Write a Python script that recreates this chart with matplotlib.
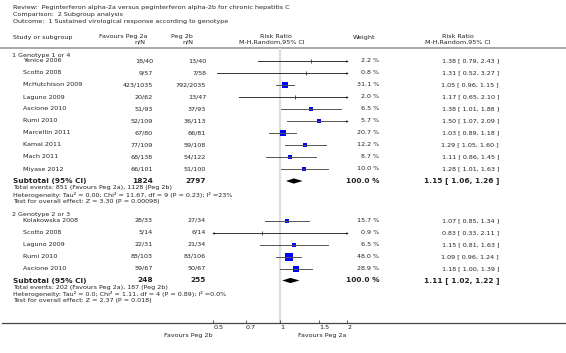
import matplotlib

matplotlib.use("Agg")

import matplotlib.pyplot as plt
import numpy as np

# ---- data -----------------------------------------------------------------
g1_studies = ["Yenice 2006", "Scotto 2008", "McHutchison 2009", "Laguno 2009", "Ascione 2010",
              "Rumi 2010", "Marcellin 2011", "Kamal 2011", "Mach 2011", "Miyase 2012"]
g1_peg2a = ["18/40", "9/57", "423/1035", "20/62", "51/93", "52/109", "67/80", "77/109", "68/138", "66/101"]
g1_peg2b = ["13/40", "7/58", "792/2035", "13/47", "37/93", "36/113", "66/81", "59/108", "54/122", "51/100"]
g1_weight = [2.2, 0.8, 31.1, 2.0, 6.5, 5.7, 20.7, 12.2, 8.7, 10.0]
g1_rr = [1.38, 1.31, 1.05, 1.17, 1.38, 1.50, 1.03, 1.29, 1.11, 1.28]
g1_lo = [0.79, 0.52, 0.96, 0.65, 1.01, 1.07, 0.89, 1.05, 0.86, 1.01]
g1_hi = [2.43, 3.27, 1.15, 2.10, 1.88, 2.09, 1.18, 1.60, 1.45, 1.63]
g1_total = ("1824", "2797")
g1_sub = (1.15, 1.06, 1.26)
g1_notes = ["Total events: 851 (Favours Peg 2a), 1128 (Peg 2b)",
            "Heterogeneity: Tau\u00b2 = 0.00; Chi\u00b2 = 11.67, df = 9 (P = 0.23); I\u00b2 =23%",
            "Test for overall effect: Z = 3.30 (P = 0.00098)"]

g2_studies = ["Kolakowska 2008", "Scotto 2008", "Laguno 2009", "Rumi 2010", "Ascione 2010"]
g2_peg2a = ["28/33", "5/14", "22/31", "88/103", "59/67"]
g2_peg2b = ["27/34", "6/14", "21/34", "83/106", "50/67"]
g2_weight = [15.7, 0.9, 6.5, 48.0, 28.9]
g2_rr = [1.07, 0.83, 1.15, 1.09, 1.18]
g2_lo = [0.85, 0.33, 0.81, 0.96, 1.00]
g2_hi = [1.34, 2.11, 1.63, 1.24, 1.39]
g2_total = ("248", "255")
g2_sub = (1.11, 1.02, 1.22)
g2_notes = ["Total events: 202 (Favours Peg 2a), 187 (Peg 2b)",
            "Heterogeneity: Tau\u00b2 = 0.0; Chi\u00b2 = 1.11, df = 4 (P = 0.89); I\u00b2 =0.0%",
            "Test for overall effect: Z = 2.37 (P = 0.018)"]

x_ticks = [0.5, 0.7, 1, 1.5, 2]
x_ticklabels = ["0.5", "0.7", "1", "1.5", "2"]
clip_lo, clip_hi = 0.5, 2.0

# ---- layout (pixels) --------------------------------------------------------
W, H = 566, 353
FS = 4.6
FSB = 5.3
TXT = "#222222"
ONE_PX = 280.3
PX_PER_LN = 134 / np.log(4)
AX_LEFT, AX_RIGHT, AX_TOP, AX_BOT = 2, 565, 48, 323

fig = plt.figure(figsize=(W / 100, H / 100), dpi=100)

# overlay for the table text, in pixel units
tx = fig.add_axes([0, 0, 1, 1])
tx.set_xlim(0, W)
tx.set_ylim(H, 0)
tx.axis("off")

# forest axes with log scale
ax = fig.add_axes([AX_LEFT / W, (H - AX_BOT) / H, (AX_RIGHT - AX_LEFT) / W, (AX_BOT - AX_TOP) / H])
ax.patch.set_alpha(0)
ax.set_xscale("log")
ax.set_xlim(np.exp((AX_LEFT - ONE_PX) / PX_PER_LN), np.exp((AX_RIGHT - ONE_PX) / PX_PER_LN))
ax.set_ylim(AX_BOT, AX_TOP)
for side in ("left", "right", "top"):
    ax.spines[side].set_visible(False)
ax.spines["bottom"].set_color("#444444")
ax.spines["bottom"].set_linewidth(0.9)
ax.set_yticks([])
ax.set_xticks(x_ticks)
ax.set_xticklabels(x_ticklabels)
ax.minorticks_off()
ax.tick_params(axis="x", direction="in", length=2.5, width=0.6, color="#444444",
               labelsize=FS, pad=1.5, labelcolor=TXT)
for lab in ax.get_xticklabels():
    lab.set_ha("left")
ax.axvline(1, color="#dddddd", lw=1.6, zorder=0)


def text(x, y, s, ha="left", bold=False, size=None):
    tx.text(x, y, s, ha=ha, va="center", color=TXT, fontsize=size or (FSB if bold else FS),
            fontweight="bold" if bold else "normal")


# header
text(13, 8, "Review:  Peginterferon alpha-2a versus peginterferon alpha-2b for chronic hepatitis C")
text(13, 14.5, "Comparison:  2 Subgroup analysis")
text(13, 21, "Outcome:  1 Sustained virological response according to genotype")
text(13, 37, "Study or subgroup")
text(147, 36.5, "Favours Peg 2a", ha="right")
text(145, 42.5, "n/N", ha="right")
text(193, 36.5, "Peg 2b", ha="right")
text(193, 42.5, "n/N", ha="right")
text(276, 36.5, "Risk Ratio", ha="center")
text(272, 42.5, "M-H,Random,95% CI", ha="center")
text(364, 37, "Weight", ha="center")
text(458, 36.5, "Risk Ratio", ha="center")
text(458, 42.5, "M-H,Random,95% CI", ha="center")
tx.plot([0, W], [48, 48], color="#999999", lw=1.2)


def draw_group(title, y0, studies, a, b, w, rr, lo, hi, total, sub, notes):
    text(12, y0 - 6, title)
    for i, name in enumerate(studies):
        y = y0 + 12 * i
        text(23, y, name)
        text(153, y, a[i], ha="right")
        text(206, y, b[i], ha="right")
        text(379, y, f"{w[i]:.1f} %", ha="right")
        text(499, y, f"{rr[i]:.2f} [ {lo[i]:.2f}, {hi[i]:.2f} ]", ha="right")
        l, h = max(lo[i], clip_lo), min(hi[i], clip_hi)
        if w[i] < 3:
            ax.plot([l, h], [y, y], color="#333333", lw=0.7, zorder=2)
            ax.plot(rr[i], y, marker="|", ms=3, mew=0.6, color="#333333", zorder=3)
        else:
            side = max(3.6, 1.2 * np.sqrt(w[i])) * 0.72
            ax.plot(rr[i], y, marker="s", ms=side, mew=0, color="#0000ff", zorder=2)
            ax.plot([l, h], [y, y], color="#555555", lw=0.7, zorder=3)
        if hi[i] > clip_hi:
            ax.plot(clip_hi, y, marker=">", ms=1.8, mew=0, color="#222222", zorder=3)
        if lo[i] < clip_lo:
            ax.plot(clip_lo, y, marker="<", ms=1.8, mew=0, color="#222222", zorder=3)
    ys = y0 + 12 * len(studies)
    text(13, ys, "Subtotal (95% CI)", bold=True)
    text(153, ys, total[0], ha="right", bold=True)
    text(206, ys, total[1], ha="right", bold=True)
    text(379, ys, "100.0 %", ha="right", bold=True)
    text(499, ys, f"{sub[0]:.2f} [ {sub[1]:.2f}, {sub[2]:.2f} ]", ha="right", bold=True)
    ax.fill([sub[1], sub[0], sub[2], sub[0]], [ys, ys - 2.6, ys, ys + 2.6], color="black", lw=0, zorder=3)
    for k, note in enumerate(notes):
        text(13, ys + 7 + 6.6 * k, note)


draw_group("1 Genotype 1 or 4", 61, g1_studies, g1_peg2a, g1_peg2b, g1_weight, g1_rr, g1_lo, g1_hi,
           g1_total, g1_sub, g1_notes)
draw_group("2 Genotype 2 or 3", 220.5, g2_studies, g2_peg2a, g2_peg2b, g2_weight, g2_rr, g2_lo, g2_hi,
           g2_total, g2_sub, g2_notes)

text(213, 335, "Favours Peg 2b", ha="right")
text(322, 335, "Favours Peg 2a", ha="center")

fig.savefig("out.png", dpi=100)
plt.close(fig)
